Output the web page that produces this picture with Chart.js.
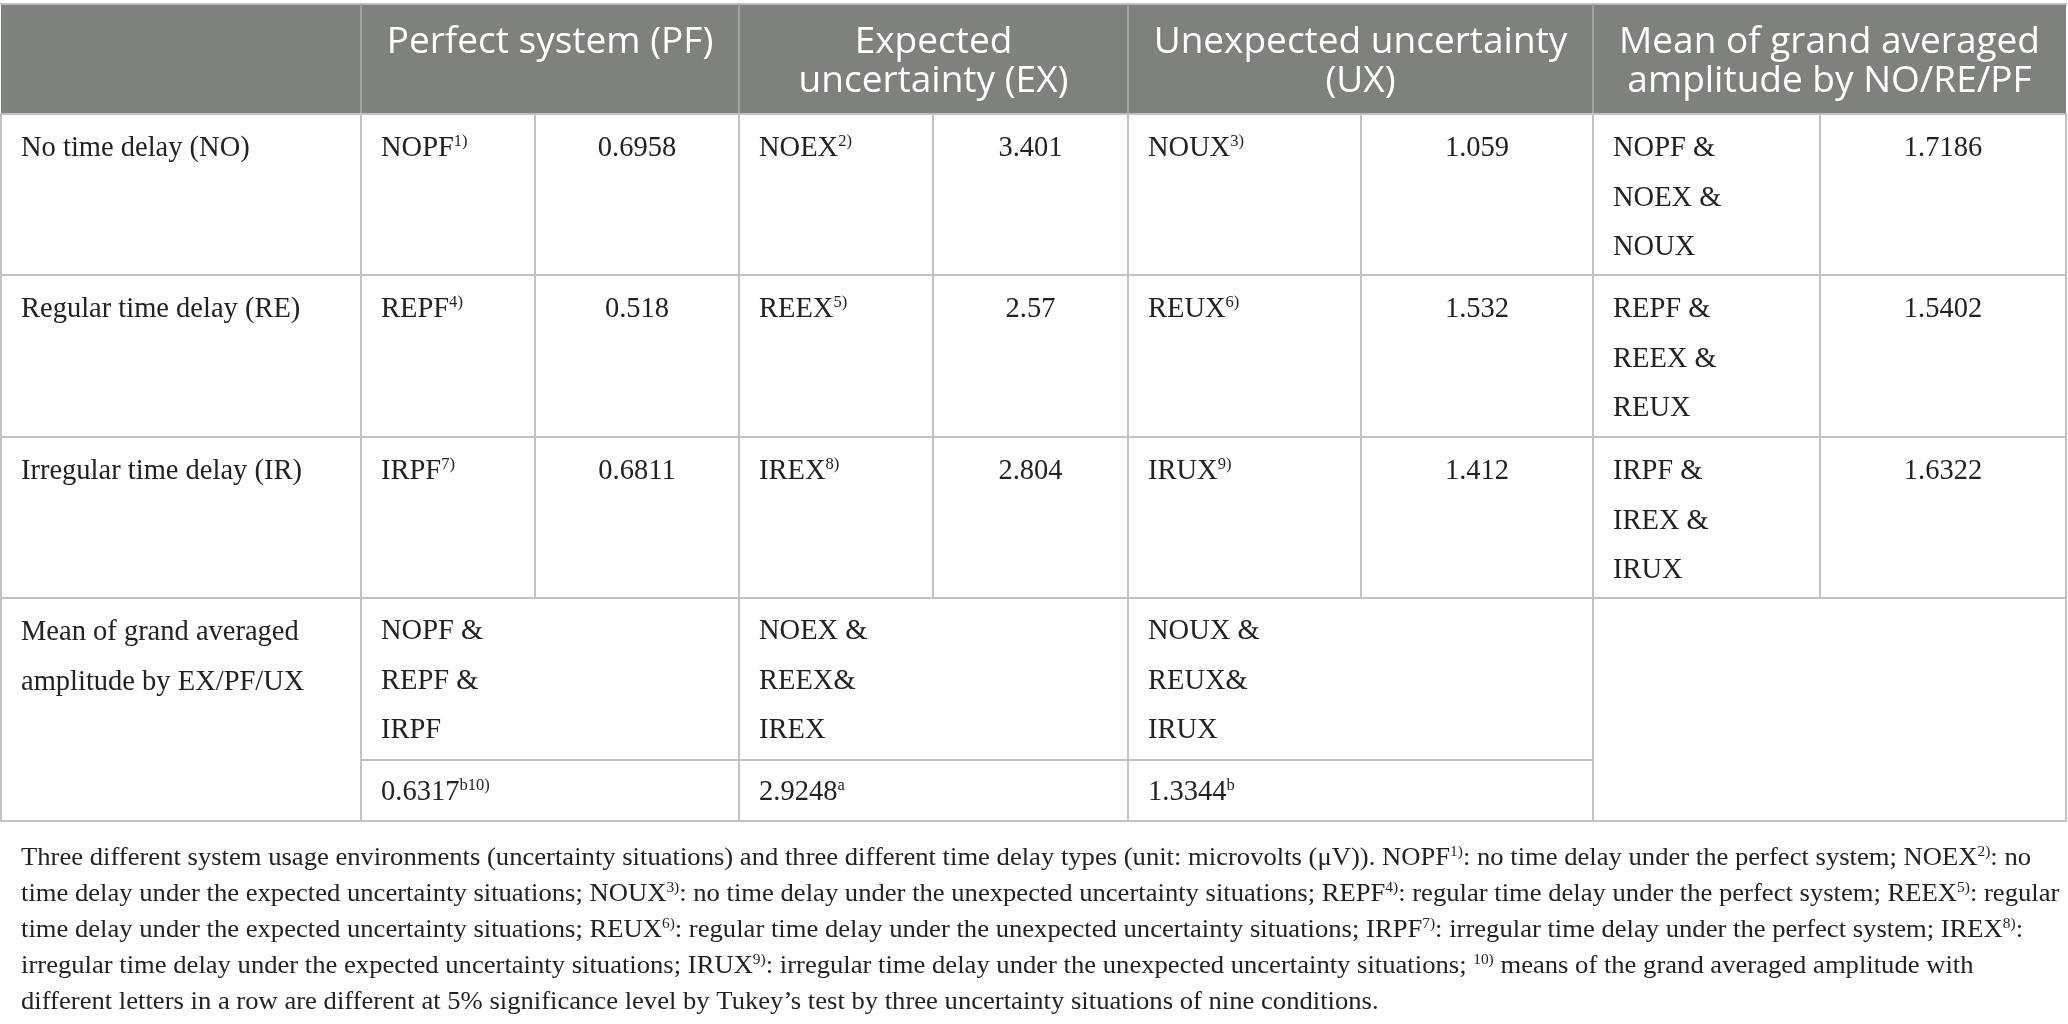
<!DOCTYPE html>
<html><head><meta charset="utf-8">
<script src="https://cdn.jsdelivr.net/npm/chart.js@4.4.1/dist/chart.umd.min.js"></script>
<style>html,body{margin:0;padding:0;background:#fff;overflow:hidden}canvas{display:block}</style>
</head><body>
<canvas id="c" width="2068" height="1024"></canvas>
<script>
// ---- data ----
const colHeaders = [["Perfect system (PF)"], ["Expected", "uncertainty (EX)"], ["Unexpected uncertainty", "(UX)"], ["Mean of grand averaged", "amplitude by NO/RE/PF"]];
const rowLabels = [["No time delay (NO)"], ["Regular time delay (RE)"], ["Irregular time delay (IR)"], ["Mean of grand averaged", "amplitude by EX/PF/UX"]];
const conditionCodes = [["NOPF", "NOEX", "NOUX"], ["REPF", "REEX", "REUX"], ["IRPF", "IREX", "IRUX"]];
const footnoteMarks = [["1)", "2)", "3)"], ["4)", "5)", "6)"], ["7)", "8)", "9)"]];
const amplitudes = [[0.6958, 3.401, 1.059], [0.518, 2.57, 1.532], [0.6811, 2.804, 1.412]];
const rowMeanLabels = [["NOPF &", "NOEX &", "NOUX"], ["REPF &", "REEX &", "REUX"], ["IRPF &", "IREX &", "IRUX"]];
const rowMeans = [1.7186, 1.5402, 1.6322];
const colMeanLabels = [["NOPF &", "REPF &", "IRPF"], ["NOEX &", "REEX&", "IREX"], ["NOUX &", "REUX&", "IRUX"]];
const colMeans = [0.6317, 2.9248, 1.3344];
const colMeanLetters = ["b", "a", "b"];
const colMeanNotes = ["10)", "", ""];
const captionLines = [
  "Three different system usage environments (uncertainty situations) and three different time delay types (unit: microvolts (\u03bcV)). NOPF^{1)}: no time delay under the perfect system; NOEX^{2)}: no",
  "time delay under the expected uncertainty situations; NOUX^{3)}: no time delay under the unexpected uncertainty situations; REPF^{4)}: regular time delay under the perfect system; REEX^{5)}: regular",
  "time delay under the expected uncertainty situations; REUX^{6)}: regular time delay under the unexpected uncertainty situations; IRPF^{7)}: irregular time delay under the perfect system; IREX^{8)}:",
  "irregular time delay under the expected uncertainty situations; IRUX^{9)}: irregular time delay under the unexpected uncertainty situations; ^{10)} means of the grand averaged amplitude with",
  "different letters in a row are different at 5% significance level by Tukey\u2019s test by three uncertainty situations of nine conditions."
];

// ---- layout (value space of the hidden axes) ----
const L = {
  colEdges: [1, 361, 535, 739, 933, 1128, 1361, 1593, 1820, 2066],
  rowEdges: [4, 114, 275, 437, 598, 760, 821],
  headerBaselines: [53, 92],
  firstLine: 42, lineStep: 49.5, padX: 20,
  captionBaselines: [865, 901, 937, 973, 1009], captionX: 21, captionWidth: 2010
};
const SERIF = '"Liberation Serif", "DejaVu Serif", serif';
const SANS = '"Open Sans", "Noto Sans", sans-serif';

function richParts(s) {
  const parts = []; const re = /\^\{([^}]*)\}/g; let last = 0, m;
  while ((m = re.exec(s))) { if (m.index > last) parts.push([s.slice(last, m.index), false]); parts.push([m[1], true]); last = re.lastIndex; }
  if (last < s.length) parts.push([s.slice(last), false]);
  return parts;
}
function richWidth(ctx, s, size, fam) {
  let w = 0;
  for (const [t, sup] of richParts(s)) { ctx.font = (sup ? size * 0.58 : size) + 'px ' + fam; w += ctx.measureText(t).width; }
  return w;
}
function drawRich(ctx, s, x, y, size, fam, align, sx) {
  sx = sx || 1;
  const w = richWidth(ctx, s, size, fam) * sx;
  let cx = align === 'center' ? x - w / 2 : x;
  ctx.save(); ctx.textAlign = 'left'; ctx.textBaseline = 'alphabetic';
  for (const [t, sup] of richParts(s)) {
    ctx.font = (sup ? size * 0.58 : size) + 'px ' + fam;
    ctx.save(); ctx.translate(cx, sup ? y - size * 0.36 : y); ctx.scale(sx, 1); ctx.fillText(t, 0, 0); ctx.restore();
    cx += ctx.measureText(t).width * sx;
  }
  ctx.restore();
}

const tablePlugin = {
  id: 'table',
  afterDraw(chart) {
    const ctx = chart.ctx, X = v => chart.scales.x.getPixelForValue(v), Y = v => chart.scales.y.getPixelForValue(v);
    const c = L.colEdges, r = L.rowEdges;
    ctx.save();
    // header
    ctx.fillStyle = '#7f817f';
    ctx.fillRect(X(c[0]), Y(r[0]), X(c[9]) - X(c[0]), Y(r[1]) - Y(r[0]));
    const hline = (y, x0, x1, col) => { ctx.strokeStyle = col; ctx.lineWidth = 2; ctx.beginPath(); ctx.moveTo(X(x0), Y(y)); ctx.lineTo(X(x1), Y(y)); ctx.stroke(); };
    const vline = (x, y0, y1, col) => { ctx.strokeStyle = col; ctx.lineWidth = 2; ctx.beginPath(); ctx.moveTo(X(x), Y(y0)); ctx.lineTo(X(x), Y(y1)); ctx.stroke(); };
    const G = '#c2c2c2', HG = '#a2a3a2';
    hline(r[0], c[0] - 1, c[9] + 1, '#bdbdbd');
    [1, 3, 5, 7].forEach(i => vline(c[i], r[0], r[1], HG));
    [r[1], r[2], r[3], r[4], r[6]].forEach(y => hline(y, c[0] - 1, c[9] + 1, G));
    hline(r[5], c[1], c[7], G);
    [0, 1, 3, 5, 7, 9].forEach(i => vline(c[i], r[1], r[6], G));
    [2, 4, 6, 8].forEach(i => vline(c[i], r[1], r[4], G));
    // header text
    ctx.fillStyle = '#ffffff';
    colHeaders.forEach((lines, j) => {
      const cx = (X(c[1 + 2 * j]) + X(c[3 + 2 * j])) / 2;
      lines.forEach((t, k) => { ctx.font = '400 37px ' + SANS; ctx.textAlign = 'center'; ctx.textBaseline = 'alphabetic'; ctx.fillText(t, cx, Y(L.headerBaselines[k])); });
    });
    // body
    ctx.fillStyle = '#222222';
    const FS = 28.5;
    rowLabels.forEach((lines, i) => {
      lines.forEach((t, k) => drawRich(ctx, t, X(L.padX + c[0]), Y(r[1 + i] + L.firstLine + k * L.lineStep), FS, SERIF, 'left'));
    });
    for (let i = 0; i < 3; i++) {
      const base = r[1 + i] + L.firstLine;
      for (let j = 0; j < 3; j++) {
        drawRich(ctx, conditionCodes[i][j] + '^{' + footnoteMarks[i][j] + '}', X(c[1 + 2 * j] + L.padX), Y(base), FS, SERIF, 'left');
        drawRich(ctx, String(amplitudes[i][j]), (X(c[2 + 2 * j]) + X(c[3 + 2 * j])) / 2, Y(base), FS, SERIF, 'center');
      }
      rowMeanLabels[i].forEach((t, k) => drawRich(ctx, t, X(c[7] + L.padX), Y(base + k * L.lineStep), FS, SERIF, 'left'));
      drawRich(ctx, String(rowMeans[i]), (X(c[8]) + X(c[9])) / 2, Y(base), FS, SERIF, 'center');
    }
    for (let j = 0; j < 3; j++) {
      colMeanLabels[j].forEach((t, k) => drawRich(ctx, t, X(c[1 + 2 * j] + L.padX), Y(r[4] + L.firstLine - 1 + k * L.lineStep), FS, SERIF, 'left'));
      drawRich(ctx, String(colMeans[j]) + '^{' + colMeanLetters[j] + colMeanNotes[j] + '}', X(c[1 + 2 * j] + L.padX), Y(r[5] + 40), FS, SERIF, 'left');
    }
    // caption
    const CF = 25;
    const sx = L.captionWidth / richWidth(ctx, captionLines[0], CF, SERIF);
    captionLines.forEach((t, k) => drawRich(ctx, t, X(L.captionX), Y(L.captionBaselines[k]), CF, SERIF, 'left', sx));
    ctx.restore();
  }
};

new Chart(document.getElementById('c'), {
  type: 'scatter',
  data: { datasets: [] },
  options: {
    responsive: false, animation: false, devicePixelRatio: 1,
    layout: { padding: 0 },
    plugins: { legend: { display: false }, tooltip: { enabled: false }, title: { display: false } },
    scales: {
      x: { type: 'linear', min: 0, max: 2068, display: false },
      y: { type: 'linear', min: 0, max: 1024, reverse: true, display: false }
    }
  },
  plugins: [tablePlugin]
});
</script>
</body></html>
